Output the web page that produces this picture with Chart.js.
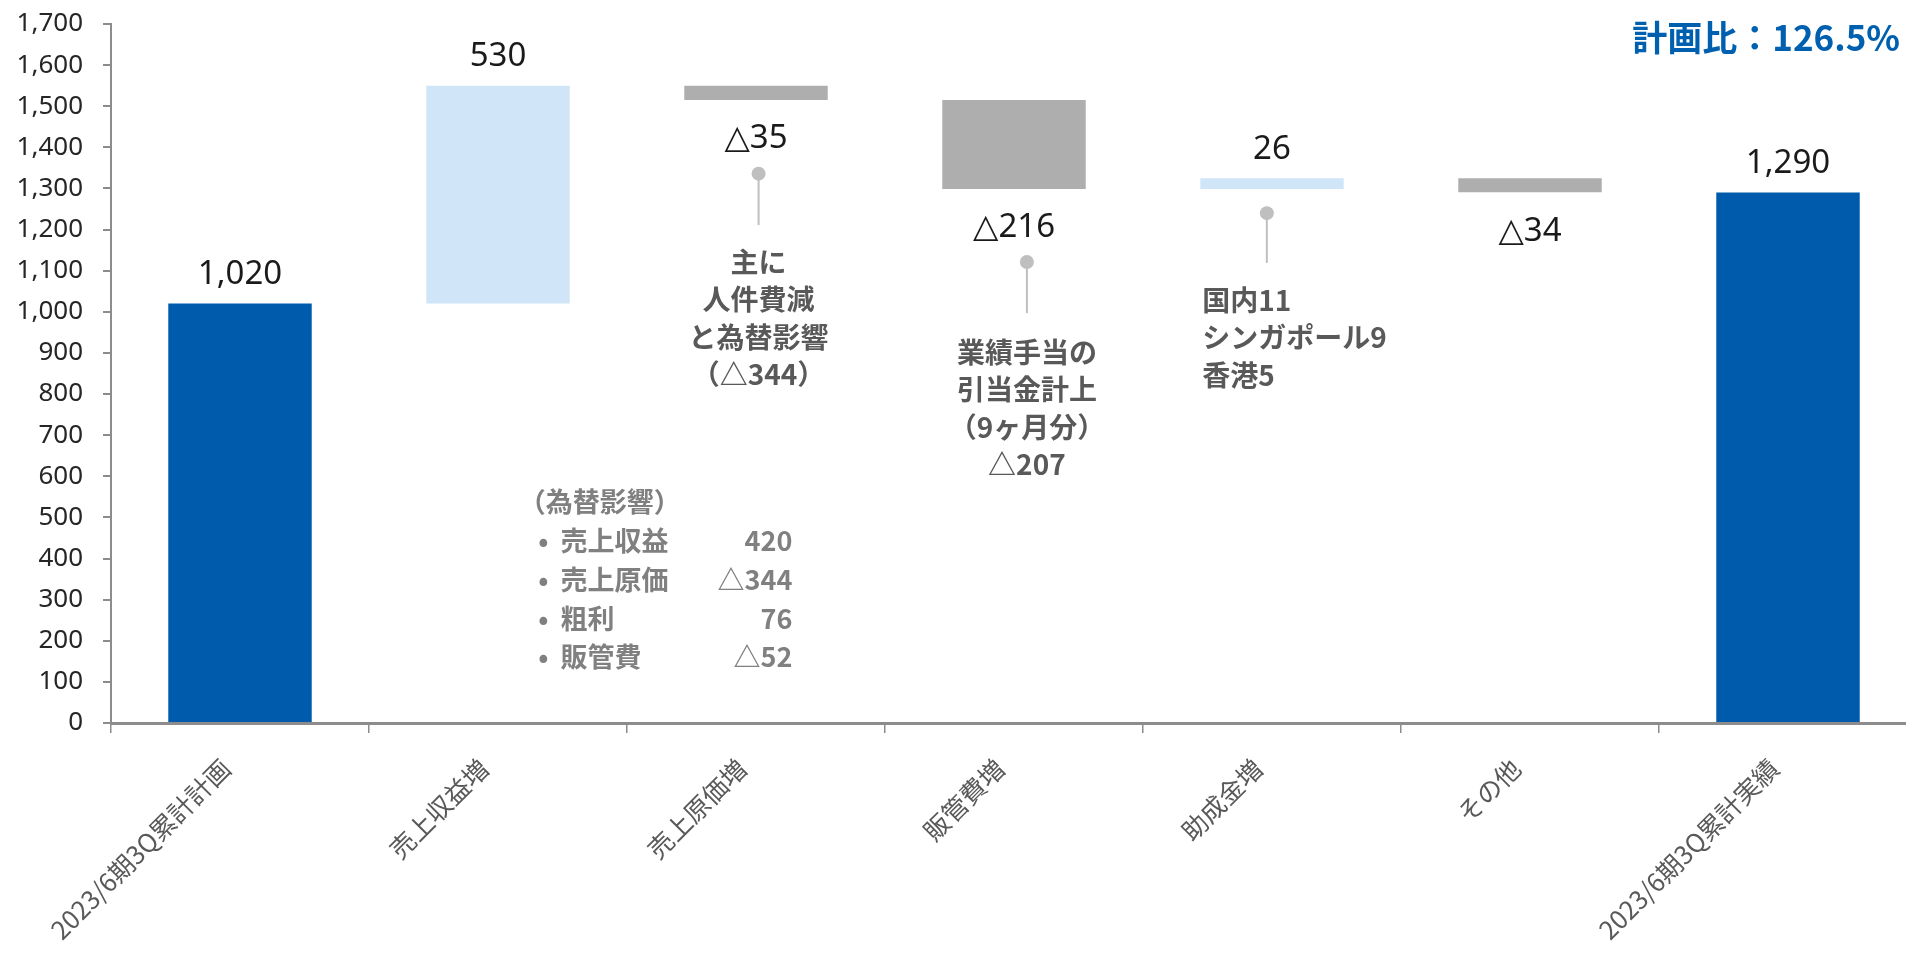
<!DOCTYPE html>
<html>
<head>
<meta charset="utf-8">
<script src="https://cdn.jsdelivr.net/npm/chart.js@4/dist/chart.umd.min.js"></script>
<style>
  html, body { margin: 0; padding: 0; overflow: hidden; background: #fff; }
  canvas { display: block; }
</style>
</head>
<body>
<canvas id="waterfall" width="1917" height="956"></canvas>
<script>
// data
const categories = ['2023/6期3Q累計計画', '売上収益増', '売上原価増', '販管費増', '助成金増', 'その他', '2023/6期3Q累計実績'];
const changes = [1020, 530, -35, -216, 26, -34, 1290];
const isTotal = [true, false, false, false, false, false, true];
const yMin = 0;
const yMax = 1700;
const yStep = 100;

const title = '計画比：126.5%';

const noteA = ['主に', '人件費減', 'と為替影響', '（△344）'];
const noteB = ['業績手当の', '引当金計上', '（9ヶ月分）', '△207'];
const noteC = ['国内11', 'シンガポール9', '香港5'];

const fxTitle = '（為替影響）';
const fxItems = ['売上収益', '売上原価', '粗利', '販管費'];
const fxValues = ['420', '△344', '76', '△52'];

// colours
const TOTAL = '#005BAC';
const UP = '#D0E6F8';
const DOWN = '#AEAEAE';
const AXIS = '#8C8C8C';

// floating ranges for the waterfall
let running = 0;
const ranges = changes.map((v, i) => {
    if (isTotal[i]) { running = v; return [0, v]; }
    const start = running;
    running += v;
    return [start, running];
});
const colors = changes.map((v, i) => isTotal[i] ? TOTAL : (v >= 0 ? UP : DOWN));

function fmt(v) {
    return v < 0 ? '△' + Math.abs(v).toLocaleString('en-US') : v.toLocaleString('en-US');
}

const CJK = '"Noto Sans CJK JP", "Noto Sans", sans-serif';
const NUM = '"Noto Sans", "DejaVu Sans", sans-serif';

// callouts placed in axis units (category index, y value)
const callouts = [
    { at: 2.01, dot: 1336, end: 1211, first: 1121, textAt: 2.01, align: 'center', lines: noteA },
    { at: 3.05, dot: 1121, end: 997, first: 902, textAt: 3.05, align: 'center', lines: noteB },
    { at: 3.98, dot: 1240, end: 1119, first: 1029, textAt: 3.73, align: 'left', lines: noteC }
];

const overlay = {
    id: 'overlay',
    afterDatasetsDraw(chart) {
        const { ctx } = chart;
        const x = chart.scales.x;
        const y = chart.scales.y;
        const meta = chart.getDatasetMeta(0);

        ctx.save();
        // value labels
        ctx.font = '33px ' + NUM;
        ctx.fillStyle = '#1a1a1a';
        ctx.textAlign = 'center';
        ctx.textBaseline = 'middle';
        meta.data.forEach((bar, i) => {
            const r = ranges[i];
            const top = y.getPixelForValue(Math.max(r[0], r[1]));
            const bottom = y.getPixelForValue(Math.min(r[0], r[1]));
            if (changes[i] >= 0) ctx.fillText(fmt(changes[i]), bar.x, top - 29);
            else ctx.fillText(fmt(changes[i]), bar.x, bottom + 39);
        });

        // callouts
        callouts.forEach(c => {
            const cx = x.getPixelForValue(c.at);
            ctx.strokeStyle = '#BFBFBF';
            ctx.lineWidth = 2;
            ctx.beginPath();
            ctx.moveTo(cx, y.getPixelForValue(c.dot));
            ctx.lineTo(cx, y.getPixelForValue(c.end));
            ctx.stroke();
            ctx.fillStyle = '#BFBFBF';
            ctx.beginPath();
            ctx.arc(cx, y.getPixelForValue(c.dot), 7, 0, Math.PI * 2);
            ctx.fill();

            ctx.fillStyle = '#595959';
            ctx.font = 'bold 28px ' + CJK;
            ctx.textAlign = c.align;
            const tx = x.getPixelForValue(c.textAt);
            const ty = y.getPixelForValue(c.first);
            c.lines.forEach((line, k) => ctx.fillText(line, tx, ty + k * 37.5));
        });

        // fx box
        ctx.fillStyle = '#808080';
        ctx.font = 'bold 27px ' + CJK;
        const fy = y.getPixelForValue(537);
        ctx.textAlign = 'left';
        ctx.fillText(fxTitle, x.getPixelForValue(1.08), fy);
        fxItems.forEach((item, k) => {
            const ly = fy + (k + 1) * 38.7;
            ctx.textAlign = 'center';
            ctx.fillText('•', x.getPixelForValue(1.176), ly);
            ctx.textAlign = 'left';
            ctx.fillText(item, x.getPixelForValue(1.242), ly);
            ctx.textAlign = 'right';
            ctx.fillText(fxValues[k], x.getPixelForValue(2.141), ly);
        });

        // title
        ctx.fillStyle = '#0060B0';
        ctx.font = 'bold 35px ' + CJK;
        ctx.textAlign = 'right';
        ctx.fillText(title, 1900, 38);
        ctx.restore();
    }
};

new Chart(document.getElementById('waterfall').getContext('2d'), {
    type: 'bar',
    data: {
        labels: categories,
        datasets: [{
            data: ranges,
            backgroundColor: colors,
            borderWidth: 0,
            barPercentage: 0.556,
            categoryPercentage: 1
        }]
    },
    options: {
        responsive: false,
        animation: false,
        devicePixelRatio: 1,
        layout: { padding: { top: 24, right: 0, bottom: 0, left: 0 } },
        plugins: {
            legend: { display: false },
            tooltip: { enabled: false }
        },
        scales: {
            x: {
                afterFit: s => { s.height = 233; s.paddingLeft = 0; s.paddingRight = 0; },
                grid: { drawOnChartArea: false, drawTicks: true, tickLength: 10, color: AXIS, lineWidth: 1.5 },
                border: { color: AXIS, width: 3 },
                ticks: {
                    autoSkip: false,
                    minRotation: 45,
                    maxRotation: 45,
                    padding: 20,
                    labelOffset: -14,
                    color: '#595959',
                    font: { family: CJK, size: 25.5 }
                }
            },
            y: {
                min: yMin,
                max: yMax,
                afterFit: s => { s.width = 111; s.paddingTop = 0; s.paddingBottom = 0; },
                grid: { drawOnChartArea: false, drawTicks: true, tickLength: 8, color: AXIS, lineWidth: 2 },
                border: { color: AXIS, width: 2 },
                ticks: {
                    stepSize: yStep,
                    padding: 20,
                    color: '#262626',
                    font: { family: NUM, size: 26 },
                    callback: v => v.toLocaleString('en-US')
                }
            }
        }
    },
    plugins: [overlay]
});
</script>
</body>
</html>
